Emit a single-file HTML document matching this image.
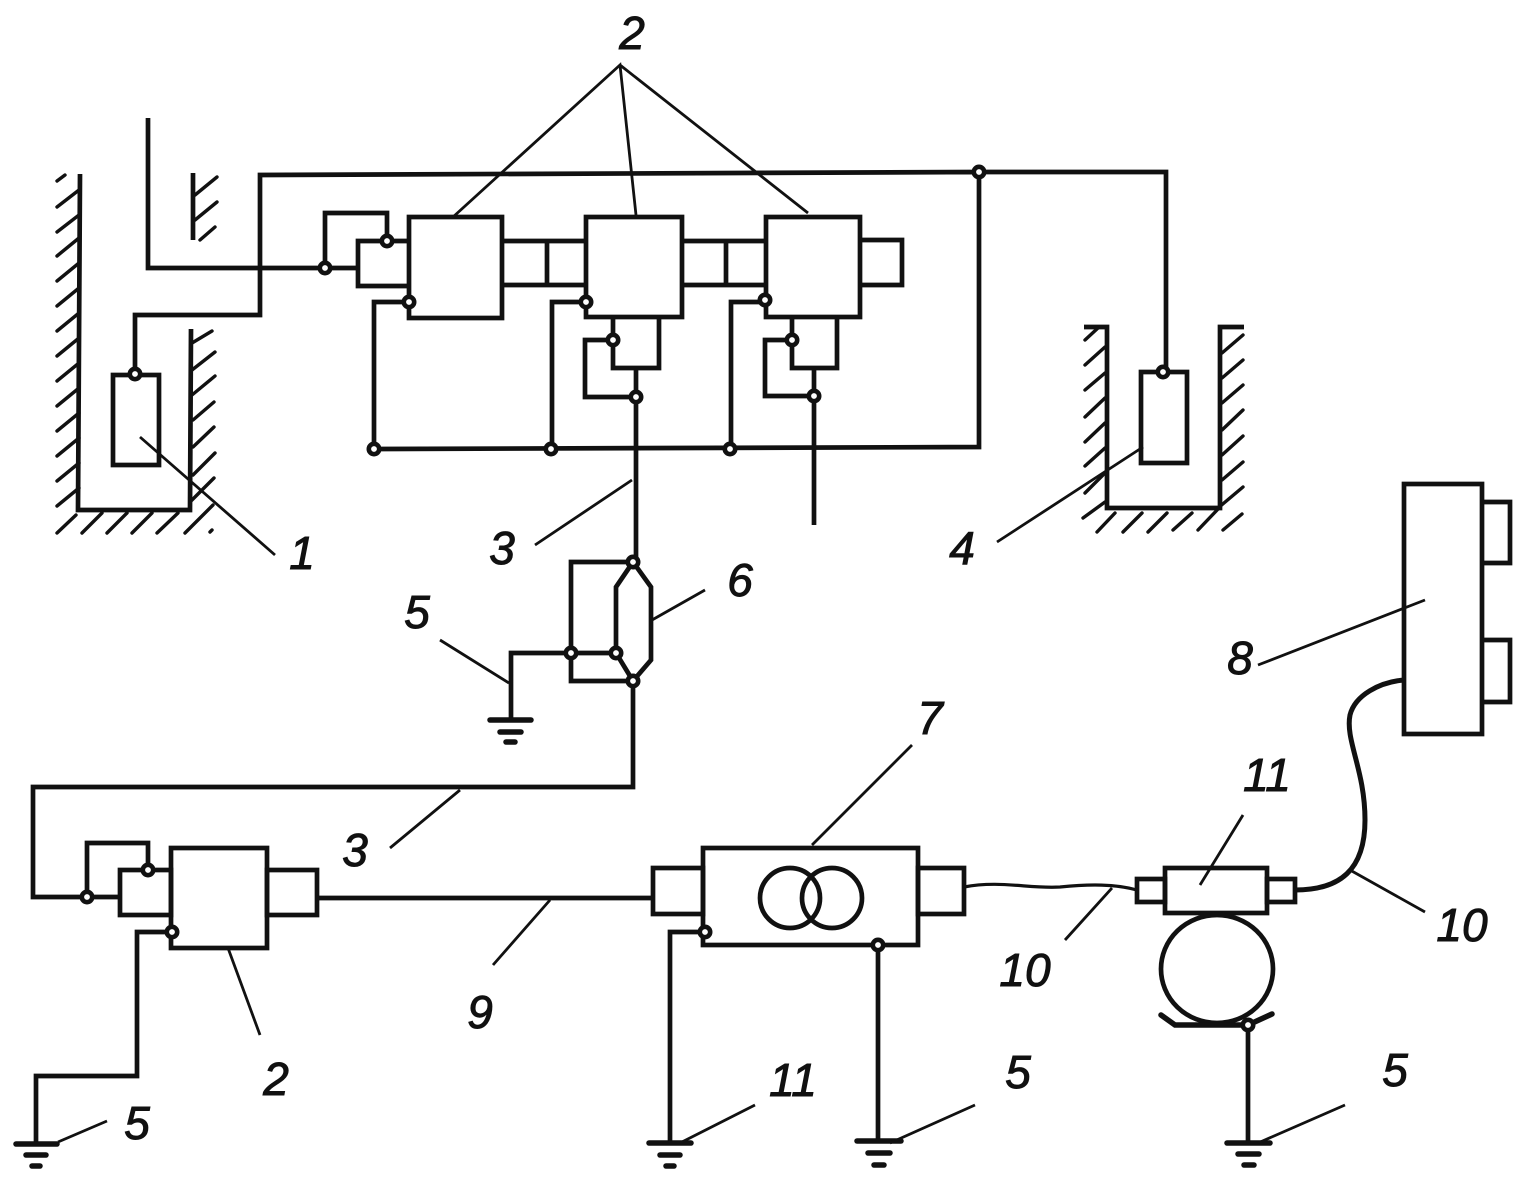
<!DOCTYPE html>
<html><head><meta charset="utf-8"><style>
html,body{margin:0;padding:0;background:#fff;width:1525px;height:1185px;overflow:hidden}
svg{display:block}
text{font-family:"Liberation Sans",sans-serif;font-style:italic;font-size:46px;fill:#111;stroke:#111;stroke-width:1;text-anchor:middle}
.w{fill:none;stroke:#111;stroke-width:4.7;stroke-linejoin:miter}
.t{fill:none;stroke:#111;stroke-width:2.8}
.h{fill:none;stroke:#111;stroke-width:3.4;stroke-linecap:round}
.g{fill:none;stroke:#111;stroke-width:5.5;stroke-linecap:round}
.n{fill:#fff;stroke:#111;stroke-width:4.6}
</style></head><body>
<svg width="1525" height="1185" viewBox="0 0 1525 1185" xmlns="http://www.w3.org/2000/svg">
<!-- hatching -->
<path class="h" d="M57 181L65 175M57 207L79 190M57 232L79 215M57 256L79 238M57 281L79 263M57 306L79 288M57 331L79 313M57 356L79 338M57 381L79 363M57 406L79 388M57 431L79 413M57 456L79 438M57 481L79 463M57 506L79 488M57 533L76 515M82 533L102 513M107 533L127 513M132 533L152 513M157 533L178 513M185 533L213 505M210 532L212 530"/>
<path class="h" d="M192 343L212 331M192 370L215 352M192 395L215 376M193 420L214 402M193 447L214 427M193 475L215 453M190 502L214 478M195 195L217 177M195 220L217 202M200 240L215 227"/>
<path class="h" d="M1085 340L1098 328M1085 365L1105 347M1085 390L1105 373M1085 417L1105 398M1085 442L1105 423M1085 466L1105 448M1085 493L1105 473M1083 518L1105 502M1222 353L1243 335M1222 378L1243 360M1222 403L1243 385M1222 430L1243 410M1222 455L1243 436M1222 480L1243 462M1218 508L1243 487M1097 532L1115 513M1123 532L1142 513M1148 532L1167 513M1173 530L1192 513M1198 530L1220 507M1223 530L1242 514"/>
<path class="w" d="M80 174L78 510H190L191 329M193 173V240M1084 327H1107V508H1220V327H1244"/>
<!-- sensors -->
<rect class="w" x="113" y="375" width="46" height="90"/>
<rect class="w" x="1141" y="372" width="46" height="91"/>
<!-- top blocks -->
<rect class="w" x="409" y="217" width="93" height="101"/>
<rect class="w" x="586" y="217" width="96" height="100"/>
<rect class="w" x="766" y="217" width="94" height="100"/>
<path class="w" d="M409 241H358V286H409M502 241H586M502 285H586M547 241V285M682 241H766M682 285H766M726 241V285M860 240H902V285H860"/>
<!-- wires -->
<path class="w" d="M148 118V268H358M325 268V213H387V241"/>
<path class="w" d="M135 375V315H260V175L979 172H1166V371M979 172V447L374 449V302H409M552 449V302H586M731 449V302H765"/>
<path class="w" d="M613 318V368H659V318M613 340H585V397H636M636 368V561M792 318V368H837V318M792 340H765V396H814M814 368V525"/>
<!-- module 6 -->
<path class="w" d="M633 562L651 587V660L633 681L616 653V587ZM633 562H571V681H633M511 720V653H616M633 681V787H33V897H120"/>
<path class="w" d="M87 897V843H148V870"/>
<!-- lower blocks -->
<rect class="w" x="120" y="870" width="51" height="45"/>
<rect class="w" x="171" y="848" width="96" height="100"/>
<rect class="w" x="267" y="870" width="50" height="45"/>
<rect class="w" x="653" y="868" width="50" height="46"/>
<rect class="w" x="703" y="848" width="215" height="97"/>
<rect class="w" x="918" y="868" width="46" height="46"/>
<circle class="w" cx="790" cy="898" r="30"/>
<circle class="w" cx="832" cy="898" r="30"/>
<path class="w" d="M317 898H653M705 932H670V1143M878 945V1141M172 932H137V1076H36V1142M1248 1025V1141"/>
<!-- fibre parts -->
<rect class="w" x="1137" y="879" width="28" height="23"/>
<rect class="w" x="1165" y="868" width="102" height="45"/>
<rect class="w" x="1267" y="879" width="28" height="23"/>
<path class="w" style="stroke-width:3.2" d="M964 887C1000 880 1030 889 1060 887C1090 884 1115 884 1137 890"/>
<path class="w" style="stroke-width:5" d="M1295 890C1340 890 1365 870 1365 820C1365 770 1345 740 1350 715C1355 695 1380 682 1404 680"/>
<rect class="w" x="1404" y="484" width="78" height="250"/>
<path class="w" d="M1482 502H1510V563H1482M1482 640H1510V702H1482"/>
<ellipse class="w" cx="1217" cy="969" rx="56" ry="54"/>
<path class="g" d="M1161 1015L1175 1025H1248L1272 1014"/>
<!-- grounds -->
<path class="g" d="M490 720H531M500 732H521M506 742H515"/>
<path class="g" d="M16 1144H57M26 1155H46M32 1166H40"/>
<path class="g" d="M649 1143H691M660 1155H680M666 1166H674"/>
<path class="g" d="M857 1141H901M868 1153H890M874 1165H884"/>
<path class="g" d="M1227 1143H1270M1238 1154H1259M1244 1165H1254"/>
<!-- leaders -->
<path class="t" d="M453 217L620 65L636 215M620 65L808 213M140 437L275 555M632 480L535 545M1143 447L997 542M440 640L509 683M652 620L705 590M460 790L390 848M550 900L493 965M228 948L260 1035M912 745L812 845M1425 600L1258 665M1243 815L1200 885M1112 888L1065 940M1350 870L1425 912M755 1105L680 1143M975 1105L890 1143M1345 1105L1258 1143M107 1121L58 1142"/>
<!-- nodes -->
<g class="n">
<circle cx="325" cy="268" r="5.2"/><circle cx="387" cy="241" r="5.2"/><circle cx="409" cy="302" r="5.2"/>
<circle cx="586" cy="302" r="5.2"/><circle cx="765" cy="300" r="5.2"/><circle cx="613" cy="340" r="5.2"/>
<circle cx="792" cy="340" r="5.2"/><circle cx="636" cy="397" r="5.2"/><circle cx="814" cy="396" r="5.2"/>
<circle cx="374" cy="449" r="5.2"/><circle cx="551" cy="449" r="5.2"/><circle cx="730" cy="449" r="5.2"/>
<circle cx="979" cy="172" r="5.2"/><circle cx="135" cy="374" r="5.2"/><circle cx="1163" cy="372" r="5.2"/>
<circle cx="633" cy="562" r="5.2"/><circle cx="633" cy="681" r="5.2"/><circle cx="571" cy="653" r="5.2"/><circle cx="616" cy="653" r="5.2"/>
<circle cx="87" cy="897" r="5.2"/><circle cx="148" cy="870" r="5.2"/><circle cx="172" cy="932" r="5.2"/>
<circle cx="705" cy="932" r="5.2"/><circle cx="878" cy="945" r="5.2"/><circle cx="1248" cy="1025" r="5.2"/>
</g>
<!-- labels -->
<text x="632" y="49">2</text>
<text x="302" y="569">1</text>
<text x="502" y="564">3</text>
<text x="962" y="564">4</text>
<text x="417" y="628">5</text>
<text x="740" y="596">6</text>
<text x="930" y="734">7</text>
<text x="1240" y="674">8</text>
<text x="1267" y="791">11</text>
<text x="355" y="866">3</text>
<text x="480" y="1028">9</text>
<text x="276" y="1095">2</text>
<text x="1025" y="986">10</text>
<text x="1462" y="941">10</text>
<text x="793" y="1096">11</text>
<text x="1018" y="1088">5</text>
<text x="1395" y="1086">5</text>
<text x="137" y="1139">5</text>
</svg>
</body></html>
